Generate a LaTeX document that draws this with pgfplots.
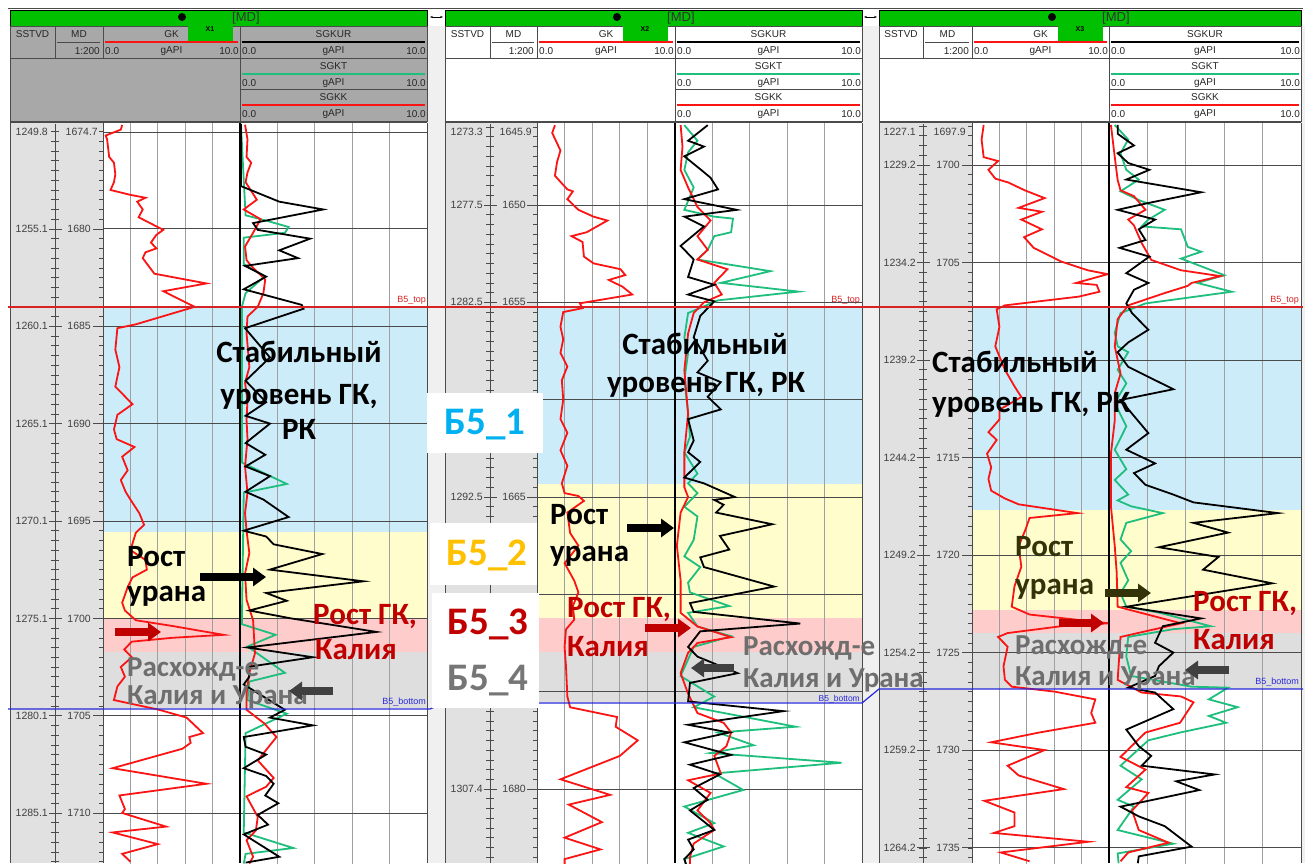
\documentclass[border=0pt]{standalone}
\usepackage{fontspec}
\setmainfont{Liberation Sans}
\newfontfamily\annfont{Carlito}
\usepackage{pgfplots}
\pgfplotsset{compat=1.18}
\usetikzlibrary{arrows.meta}

\definecolor{hdrgreen}{RGB}{0,192,0}
\definecolor{hdrgray}{RGB}{168,168,168}
\definecolor{depthbg}{RGB}{225,225,225}
\definecolor{gapbg}{RGB}{240,240,240}
\definecolor{zblue}{RGB}{204,236,250}
\definecolor{zyellow}{RGB}{255,253,204}
\definecolor{zpink}{RGB}{255,204,204}
\definecolor{zgray}{RGB}{222,222,222}
\definecolor{gkred}{RGB}{250,20,20}
\definecolor{sgkt}{RGB}{30,190,125}
\definecolor{darkred}{RGB}{192,0,0}
\definecolor{b51}{RGB}{0,176,240}
\definecolor{b52}{RGB}{255,192,0}
\definecolor{b54}{RGB}{118,118,118}
\definecolor{olive}{RGB}{51,51,10}
\definecolor{toprd}{RGB}{215,35,35}
\definecolor{botbl}{RGB}{40,40,220}
\definecolor{gridc}{RGB}{160,160,160}
\definecolor{majc}{RGB}{75,75,75}
\definecolor{anngray}{RGB}{110,110,110}

\pgfplotsset{
  track/.style={scale only axis, height=739pt, anchor=north west, y dir=reverse,
    xmin=0, xmax=10, hide axis, clip=true},
  gkc/.style={gkred, line width=1.8pt},
  urc/.style={black, line width=1.8pt},
  tc/.style={sgkt, line width=1.8pt},
  kc/.style={gkred, line width=1.8pt},
}
\tikzset{
  vgrid/.style={gridc, line width=0.8pt},
  hgrid/.style={majc, line width=0.9pt},
  hd/.style={font=\fontsize{10}{11}\selectfont, text=black!85, inner sep=0pt},
  dl/.style={font=\fontsize{10.5}{11}\selectfont, text=black!75, inner sep=0pt},
  ann/.style={font=\annfont\bfseries\fontsize{31}{32}\selectfont, inner sep=0pt},
  anns/.style={font=\annfont\bfseries\fontsize{29}{30}\selectfont, inner sep=0pt},
  big/.style={font=\annfont\bfseries\fontsize{39}{40}\selectfont, inner sep=0pt},
  fat/.style={line width=8pt, -{Triangle[width=18pt,length=13pt]}},
}

% zones of the B5 layer, in MD
\newcommand\zones[5]{%
  \fill[zblue] (axis cs:0,#1) rectangle (axis cs:10,#2);
  \fill[zyellow] (axis cs:0,#2) rectangle (axis cs:10,#3);
  \fill[zpink] (axis cs:0,#3) rectangle (axis cs:10,#4);
  \fill[zgray] (axis cs:0,#4) rectangle (axis cs:10,#5);
}
\newcommand\tgrid[1]{%
  \pgfplotsinvokeforeach{2,4,6,8}{\draw[vgrid] (axis cs:##1,1600) -- (axis cs:##1,1800);}
  \pgfplotsinvokeforeach{#1}{\draw[hgrid] (axis cs:0,##1) -- (axis cs:10,##1);}
}
\newcommand\curvehead[5]{%
  \node[hd] at ({(#1+#2)/2},#3) {#4};
  \draw[#5,line width=1.2pt] (#1+2,#3+8) -- (#2-2,#3+8);
  \node[hd,anchor=west] at (#1+2,#3+17) {0.0};
  \node[hd] at ({(#1+#2)/2},#3+17) {gAPI};
  \node[hd,anchor=east] at (#2-1,#3+17) {10.0};
}
\newcommand\wellhead[6]{%
  \fill[#6] (#1,26) rectangle (#5,121);
  \fill[hdrgreen] (#1,10) rectangle (#5,26);
  \draw[black,line width=0.8pt] (#1,10) rectangle (#5,26);
  \draw[majc,line width=0.8pt] (#1,26) rectangle (#5,121);
  \draw[majc,line width=0.8pt] (#1,58) -- (#5,58);
  \draw[majc,line width=0.8pt] (#4,89) -- (#5,89);
  \draw[majc,line width=0.8pt] (#2,26) -- (#2,58);
  \draw[majc,line width=0.8pt] (#3,26) -- (#3,58);
  \draw[majc,line width=0.8pt] (#4,26) -- (#4,121);
  \node[hd] at ({(#1+#2)/2},34) {SSTVD};
  \node[hd] at ({(#2+#3)/2},34) {MD};
  \draw[majc,line width=0.8pt] (#2+2,42) -- (#3-3,42);
  \node[hd,anchor=east] at (#3-3,51) {1:200};
  \node[hd] at ({(#3+#4)/2},34) {GK};
  \draw[gkred,line width=1.2pt] (#3+2,42) -- (#4-2,42);
  \node[hd,anchor=west] at (#3+2,51) {0.0};
  \node[hd] at ({(#3+#4)/2},51) {gAPI};
  \node[hd,anchor=east] at (#4-1,51) {10.0};
  \curvehead{#4}{#5}{34}{SGKUR}{black}
  \curvehead{#4}{#5}{66}{SGKT}{sgkt}
  \curvehead{#4}{#5}{97}{SGKK}{gkred}
}
\newcommand\welltab[2]{%
  \node[anchor=west,font=\fontsize{13}{13}\selectfont,text=black!80,inner sep=0pt] at (#1+44,18) {[MD]};
  \fill[black] (#1-6,17) circle (4pt);
  \fill[hdrgreen] (#1,25) rectangle (#1+45,41);
  \node[font=\bfseries\fontsize{7}{8}\selectfont,inner sep=0pt] at (#1+22,29) {#2};
}
\newcommand\depthcol[5]{%
  \fill[depthbg] (#1,123) rectangle (#3,863);
  \begin{scope}
    \clip (#1,124) rectangle (#3,863);
    \draw[majc,line width=0.8pt] (#2,124) -- (#2,863);
    \foreach \i in {-30,...,80} {
      \draw[majc,line width=0.7pt] (#2-4,{#4+\i*#5}) -- (#2+4,{#4+\i*#5});
      \draw[majc,line width=0.7pt] (#3-4,{#4+\i*#5}) -- (#3,{#4+\i*#5});
    }
  \end{scope}
}

\begin{document}
\begin{tikzpicture}
\begin{scope}[x=1pt,y=-1pt,shift={(0pt,863pt)}]
\useasboundingbox (0,0) rectangle (1305,863);
\fill[white] (0,0) rectangle (1305,863);
\fill[gapbg] (427,26) rectangle (445,863);
\fill[gapbg] (862,26) rectangle (879,863);
\fill[gapbg] (1301,26) rectangle (1305,863);
\draw[majc,line width=0.8pt] (8,8.5) -- (1303,8.5);
\draw[{Stealth[length=3pt]}-{Stealth[length=3pt]}, line width=0.8pt] (430,17) -- (443,17);
\draw[{Stealth[length=3pt]}-{Stealth[length=3pt]}, line width=0.8pt] (864,17) -- (877,17);

\wellhead{10}{55}{103}{240}{427}{hdrgray}
\welltab{188}{X1}
\wellhead{445}{490}{537}{675}{862}{white}
\welltab{623}{X2}
\wellhead{879}{923}{972}{1109}{1301}{white}
\welltab{1058}{X3}
\draw[majc,line width=0.8pt] (10,122.5) -- (427,122.5);
\draw[majc,line width=0.8pt] (445,122.5) -- (862,122.5);
\draw[majc,line width=0.8pt] (879,122.5) -- (1301,122.5);

\depthcol{10}{55}{103}{229}{9.735}
\depthcol{445}{490}{537}{205}{9.735}
\depthcol{879}{923}{972}{165}{9.755}
\end{scope}

% ---------------- well X1 ----------------
\begin{axis}[track, at={(103pt,739pt)}, width=137pt, ymin=1674.61, ymax=1712.57]
\zones{1684.0}{1695.56}{1700.03}{1701.73}{1704.6}
\tgrid{1680,1685,...,1710}
\draw[hgrid] (axis cs:0,1675.02) -- (axis cs:10,1675.02);
\addplot[gkc] coordinates {
(1.4,1674.66) (1.3,1674.9) (0.2,1675.2) (0.3,1675.4) (0.45,1676.3) (0.8,1676.6)
(0.9,1677.2) (0.8,1677.6) (0.55,1678.0) (2.0,1678.25) (3.1,1678.4) (2.5,1678.6)
(2.9,1679.0) (2.6,1679.4) (4.4,1680.05) (3.9,1680.3) (3.5,1680.7) (3.9,1681.0)
(3.1,1681.2) (2.9,1681.5) (3.75,1682.3) (7.55,1682.8) (4.4,1683.2) (6.4,1683.9)
(6.7,1684.0) (2.4,1684.9) (1.05,1685.1) (0.9,1686.2) (1.2,1687.1) (0.9,1688.1)
(2.15,1689.0) (1.05,1689.55) (0.8,1690.3) (1.0,1690.8) (2.3,1691.2) (1.4,1691.7)
(1.8,1692.4) (1.3,1692.9) (1.65,1693.5) (2.0,1693.9) (2.65,1694.6) (3.0,1695.2)
(2.4,1695.6) (2.0,1696.5) (3.1,1697.0) (3.2,1697.5) (2.15,1697.9) (1.8,1698.4)
(1.4,1699.2) (1.6,1699.6) (2.4,1700.1) (5.1,1700.4) (8.8,1700.85) (5.1,1701.0)
(2.1,1701.2) (1.55,1701.6) (2.1,1702.0) (1.3,1702.5) (1.6,1703.0) (1.05,1703.5)
(0.8,1704.2) (4.1,1704.7) (6.1,1705.1) (7.3,1705.9) (6.3,1706.1) (6.4,1706.4)
(5.8,1706.7) (0.7,1707.7) (7.55,1708.5) (1.2,1709.1) (1.6,1709.8) (1.4,1710.0)
(4.6,1710.7) (0.7,1711.0) (4.0,1711.6) (1.4,1712.1) (2.0,1712.5)
};
\end{axis}
\begin{axis}[track, at={(240pt,739pt)}, width=187pt, ymin=1674.61, ymax=1712.57]
\zones{1684.0}{1695.56}{1700.03}{1701.73}{1704.6}
\tgrid{1680,1685,...,1710}
\draw[hgrid] (axis cs:0,1675.02) -- (axis cs:10,1675.02);
\addplot[tc] coordinates {
(0.05,1674.6) (0.2,1677.5) (0.3,1679.3) (1.5,1679.6) (2.6,1679.9) (2.4,1680.2)
(0.2,1680.45) (0.2,1681.8) (1.3,1682.45) (0.3,1683.3) (0.1,1684.0) (0.1,1692.0)
(2.5,1693.1) (0.2,1693.55) (0.1,1700.3) (1.9,1700.85) (0.4,1701.45) (2.4,1702.8)
(0.5,1703.25) (0.4,1704.2) (2.5,1704.9) (0.3,1705.9) (0.2,1711.0) (2.85,1711.8)
(0.3,1712.1) (0.2,1712.6)
};
\addplot[kc] coordinates {
(0.27,1674.65) (0.4,1675.4) (0.35,1676.3) (0.6,1676.6) (0.4,1677.1) (0.3,1677.6)
(0.9,1678.5) (0.2,1679.0) (1.1,1679.5) (0.7,1680.2) (0.27,1680.9) (0.35,1681.6)
(0.6,1681.9) (1.35,1682.6) (1.25,1683.3) (0.95,1684.0) (0.4,1684.5) (0.35,1685.35)
(0.5,1687.1) (0.27,1687.9) (0.4,1688.8) (0.35,1689.8) (0.4,1690.8) (0.27,1692.2)
(0.4,1693.55) (0.27,1694.6) (0.35,1695.5) (0.5,1696.65) (0.27,1697.7) (0.35,1699.05)
(0.7,1700.1) (0.8,1701.8) (0.5,1702.8) (0.35,1703.85) (0.35,1704.7) (1.3,1705.4)
(1.95,1706.1) (0.95,1707.3) (1.8,1708.2) (1.4,1708.65) (0.35,1709.15) (0.95,1710.2)
(0.85,1710.9) (0.35,1711.4) (0.7,1712.25) (0.5,1712.6)
};
\addplot[urc] coordinates {
(0.05,1674.6) (0.05,1677.8) (2.1,1678.6) (4.45,1679.0) (0.7,1679.7) (0.95,1680.05)
(3.75,1680.5) (2.1,1681.1) (3.1,1681.5) (0.27,1681.9) (1.4,1682.45) (0.2,1683.1)
(3.3,1683.9) (3.4,1684.1) (0.27,1685.1) (1.6,1686.6) (0.3,1687.8) (1.4,1688.9)
(0.3,1689.6) (1.6,1690.0) (0.3,1691.0) (1.35,1691.6) (0.3,1692.2) (1.6,1692.7)
(0.3,1693.5) (1.25,1693.9) (2.6,1694.8) (0.2,1695.5) (1.4,1695.8) (1.8,1696.2)
(4.4,1696.7) (1.6,1697.5) (6.6,1698.1) (1.4,1698.7) (2.5,1699.1) (0.5,1699.6)
(2.7,1700.0) (7.3,1700.7) (0.4,1701.5) (3.9,1702.0) (0.4,1702.5) (0.5,1703.0)
(0.2,1703.4) (2.4,1704.7) (1.6,1705.1) (3.9,1705.5) (0.2,1706.1) (0.3,1706.6)
(1.4,1707.0) (0.2,1707.7) (1.4,1708.1) (1.8,1708.5) (1.35,1709.1) (2.05,1709.5)
(0.95,1710.1) (1.5,1710.6) (0.2,1711.1) (2.1,1712.25) (0.3,1712.55)
};
\end{axis}

% ---------------- well X2 ----------------
\begin{axis}[track, at={(537pt,739pt)}, width=138pt, ymin=1645.84, ymax=1683.80]
\zones{1655.24}{1664.33}{1671.21}{1672.96}{1675.53}
\tgrid{1650,1655,...,1680}
\addplot[gkc] coordinates {
(1.3,1645.9) (1.1,1646.3) (1.7,1647.2) (1.45,1647.8) (1.3,1648.5) (2.2,1649.2)
(2.6,1649.3) (2.2,1649.7) (3.0,1650.25) (4.1,1650.6) (5.1,1650.8) (3.6,1651.4)
(2.5,1651.6) (3.3,1651.9) (3.4,1652.65) (4.1,1653.0) (6.05,1653.3) (6.4,1653.6)
(5.2,1653.85) (6.2,1654.2) (6.9,1654.6) (3.1,1655.05) (3.3,1655.3) (1.9,1655.5)
(1.7,1656.25) (1.9,1656.9) (1.7,1657.6) (2.2,1658.3) (1.8,1659.0) (1.9,1660.0)
(1.7,1661.0) (2.2,1661.7) (1.7,1662.6) (2.2,1663.4) (1.8,1664.3) (2.0,1664.8)
(3.0,1664.95) (3.4,1665.2) (2.2,1665.8) (2.4,1666.85) (3.0,1667.5) (2.0,1668.4)
(2.7,1669.3) (3.0,1669.9) (2.6,1670.6) (2.7,1671.3) (2.1,1671.8) (2.0,1672.7)
(2.1,1673.7) (2.2,1675.25) (2.4,1675.8) (5.8,1676.3) (5.7,1676.8) (7.3,1677.5)
(6.0,1678.3) (1.7,1679.5) (5.3,1680.3) (2.3,1680.8) (4.7,1681.7) (2.0,1682.5)
(4.6,1683.1) (2.0,1683.6) (2.0,1683.9)
};
\end{axis}
\begin{axis}[track, at={(675pt,739pt)}, width=187pt, ymin=1645.84, ymax=1683.80]
\zones{1655.24}{1664.33}{1671.21}{1672.96}{1675.53}
\tgrid{1650,1655,...,1680}
\addplot[tc] coordinates {
(0.5,1645.9) (1.2,1646.7) (0.7,1647.3) (0.5,1648.2) (1.0,1649.1) (0.5,1650.25)
(2.1,1650.6) (3.1,1650.7) (3.0,1651.4) (2.1,1651.6) (1.75,1652.3) (1.2,1652.8)
(5.1,1653.4) (2.45,1654.0) (6.6,1654.45) (2.3,1654.9) (0.7,1655.55) (0.5,1656.8)
(0.7,1657.6) (0.5,1659.0) (0.7,1660.7) (0.8,1661.9) (0.5,1662.7) (1.2,1663.8)
(0.7,1664.3) (1.2,1664.8) (0.5,1665.5) (1.2,1666.0) (1.0,1667.2) (0.5,1668.05)
(1.35,1668.6) (0.7,1669.4) (0.8,1669.9) (2.9,1670.6) (0.7,1670.95) (1.2,1671.65)
(3.0,1672.15) (1.0,1672.7) (0.3,1674.2) (2.1,1675.25) (1.0,1675.8) (6.45,1676.8)
(2.3,1677.1) (4.2,1677.75) (1.9,1678.15) (8.9,1678.65) (2.1,1679.2) (3.65,1680.05)
(0.5,1680.9) (2.1,1681.75) (0.7,1682.25) (2.6,1682.95) (0.5,1683.6) (0.6,1683.9)
};
\addplot[kc] coordinates {
(0.3,1645.9) (0.4,1647.0) (0.3,1648.2) (0.7,1649.1) (1.2,1650.1) (1.9,1650.8)
(1.2,1651.6) (1.75,1652.3) (1.2,1652.8) (2.8,1653.3) (2.1,1654.0) (2.5,1654.6)
(1.55,1655.0) (1.0,1655.55) (0.7,1656.6) (0.5,1658.5) (0.7,1660.7) (0.5,1662.7)
(0.5,1664.5) (0.7,1665.0) (0.3,1665.8) (0.1,1667.5) (0.3,1669.3) (0.3,1670.95)
(1.2,1671.65) (3.0,1672.2) (1.2,1672.5) (0.7,1673.0) (0.3,1674.05) (0.7,1675.1)
(1.2,1676.1) (2.6,1676.6) (3.0,1677.1) (2.75,1677.8) (2.1,1678.3) (2.45,1679.2)
(0.7,1679.55) (1.9,1680.2) (1.2,1681.1) (1.9,1681.75) (2.1,1682.1) (1.0,1682.8)
(0.8,1683.5) (0.8,1683.9)
};
\addplot[urc] coordinates {
(1.75,1645.9) (0.7,1646.7) (1.55,1647.0) (0.5,1647.5) (1.4,1648.2) (1.9,1648.6)
(2.3,1649.2) (0.5,1649.7) (3.3,1650.25) (0.5,1650.6) (1.55,1651.1) (0.3,1652.1)
(1.0,1652.8) (0.7,1653.7) (2.1,1654.1) (0.7,1654.6) (2.1,1654.95) (1.35,1655.7)
(1.0,1656.8) (1.75,1658.0) (1.2,1658.6) (2.45,1659.1) (1.75,1659.85) (2.45,1660.5)
(0.7,1661.0) (1.0,1662.1) (0.7,1662.7) (1.35,1663.2) (0.5,1664.0) (1.55,1664.3)
(3.2,1665.0) (2.1,1665.15) (2.6,1665.4) (2.2,1665.8) (5.2,1666.4) (2.4,1667.0)
(2.9,1667.7) (1.35,1668.1) (1.55,1668.6) (5.3,1669.6) (0.8,1670.45) (1.0,1670.9)
(6.7,1671.5) (1.35,1671.9) (0.7,1672.7) (1.2,1673.2) (3.35,1674.05) (0.8,1674.55)
(0.7,1675.5) (5.8,1676.0) (0.7,1676.7) (2.9,1677.1) (0.5,1677.6) (3.0,1678.25)
(0.8,1678.75) (2.4,1679.25) (1.0,1679.95) (1.75,1680.55) (0.8,1681.1) (2.1,1682.1)
(0.7,1682.6) (1.0,1683.1) (0.5,1683.6) (0.6,1683.9)
};
\end{axis}

% ---------------- well X3 ----------------
\begin{axis}[track, at={(972pt,739pt)}, width=137pt, ymin=1697.90, ymax=1735.79]
\zones{1707.28}{1717.68}{1722.81}{1723.99}{1726.86}
\tgrid{1700,1705,...,1735}
\addplot[gkc] coordinates {
(0.85,1697.95) (0.7,1698.7) (0.85,1699.6) (1.9,1699.8) (1.2,1700.25) (1.7,1700.7)
(2.65,1700.9) (3.85,1701.3) (5.3,1701.7) (3.4,1702.2) (5.1,1702.4) (3.6,1702.8)
(5.1,1703.3) (3.8,1703.7) (4.5,1704.25) (5.8,1704.7) (6.5,1704.95) (8.45,1705.4)
(9.9,1705.6) (7.6,1706.05) (9.1,1706.15) (9.3,1706.5) (7.8,1706.75) (2.4,1707.2)
(1.8,1707.4) (2.0,1708.3) (1.7,1709.3) (2.4,1710.5) (3.1,1711.35) (3.6,1711.9)
(2.0,1712.55) (2.0,1713.05) (1.2,1713.7) (1.8,1714.1) (1.1,1714.8) (1.4,1715.5)
(1.2,1716.1) (1.4,1716.7) (2.4,1717.1) (3.4,1717.4) (7.7,1717.85) (4.2,1718.1)
(3.9,1718.7) (3.4,1719.55) (3.6,1720.6) (3.1,1721.6) (2.9,1722.65) (4.2,1723.05)
(10.0,1723.5) (6.5,1723.65) (2.6,1724.0) (1.9,1724.2) (2.6,1724.7) (2.3,1725.7)
(2.4,1726.4) (2.9,1726.75) (6.0,1727.0) (9.0,1727.4) (8.7,1728.1) (9.0,1728.6)
(4.9,1729.1) (1.4,1729.6) (5.3,1730.0) (2.6,1730.8) (3.4,1731.3) (6.7,1732.0)
(0.9,1732.6) (3.1,1733.2) (3.1,1733.9) (1.6,1734.25) (8.5,1734.7) (2.1,1735.25)
(4.2,1735.7)
};
\end{axis}
\begin{axis}[track, at={(1109pt,739pt)}, width=192pt, ymin=1697.90, ymax=1735.79]
\zones{1707.28}{1717.68}{1722.81}{1723.99}{1726.86}
\tgrid{1700,1705,...,1735}
\addplot[tc] coordinates {
(0.3,1697.95) (1.0,1698.7) (0.6,1699.4) (0.9,1700.25) (1.55,1700.75) (0.6,1701.35)
(1.55,1701.8) (2.9,1702.3) (2.05,1702.8) (1.7,1703.15) (3.75,1703.3) (4.1,1704.2)
(4.8,1704.45) (3.75,1704.8) (6.0,1705.65) (4.6,1706.05) (6.4,1706.5) (1.9,1707.1)
(0.6,1707.6) (0.3,1708.6) (0.45,1709.3) (1.0,1709.6) (0.45,1710.5) (0.9,1711.2)
(0.3,1712.2) (0.9,1713.4) (0.3,1714.6) (0.9,1715.6) (0.3,1716.15) (1.0,1716.9)
(0.45,1717.2) (1.15,1717.5) (2.8,1717.85) (0.9,1718.35) (0.6,1719.2) (1.15,1719.8)
(0.6,1720.4) (1.0,1721.3) (0.6,1721.95) (0.9,1722.65) (2.6,1722.95) (5.3,1723.65)
(3.35,1723.8) (1.0,1724.2) (0.9,1725.2) (1.15,1726.2) (4.3,1726.75) (6.2,1726.8)
(5.2,1727.4) (6.7,1727.8) (5.2,1728.25) (6.1,1728.6) (3.7,1729.1) (2.05,1729.5)
(0.6,1730.8) (1.7,1731.5) (0.45,1732.55) (1.3,1732.9) (0.45,1734.1) (3.35,1734.8)
(0.45,1735.3) (0.5,1735.8)
};
\addplot[kc] coordinates {
(0.1,1697.95) (0.3,1699.6) (0.45,1700.77) (0.6,1701.3) (1.3,1701.6) (1.9,1702.3)
(1.0,1702.8) (1.3,1703.1) (1.7,1704.0) (2.2,1704.87) (3.75,1705.4) (5.8,1705.7)
(4.3,1706.05) (4.1,1706.2) (2.8,1706.6) (1.0,1707.2) (0.45,1707.9) (0.3,1709.3)
(0.6,1710.7) (0.3,1711.7) (0.3,1713.1) (0.1,1714.8) (0.1,1717.5) (0.3,1719.55)
(0.4,1720.9) (0.45,1722.65) (3.75,1723.5) (2.4,1723.8) (0.6,1724.2) (0.45,1726.4)
(1.7,1727.05) (3.75,1727.25) (4.4,1727.55) (3.9,1728.3) (3.7,1728.6) (1.9,1729.1)
(0.6,1730.35) (1.9,1731.0) (0.9,1731.9) (2.05,1732.2) (1.2,1733.1) (1.55,1734.1)
(3.1,1734.75) (1.0,1735.25) (0.6,1735.7)
};
\addplot[urc] coordinates {
(0.45,1697.95) (0.45,1698.4) (1.3,1699.0) (0.45,1699.4) (1.0,1699.9) (2.1,1700.25)
(0.9,1700.75) (4.8,1701.4) (2.05,1701.95) (0.45,1702.3) (2.4,1702.8) (1.55,1703.3)
(1.9,1703.85) (0.55,1704.25) (2.1,1704.7) (0.9,1705.55) (2.05,1706.05) (1.3,1706.4)
(0.9,1707.1) (1.2,1707.6) (2.05,1708.45) (1.0,1709.1) (0.45,1709.6) (1.0,1710.35)
(3.35,1711.5) (0.6,1712.05) (2.05,1713.75) (0.9,1714.6) (2.4,1715.3) (1.3,1715.8)
(1.9,1716.4) (3.35,1716.9) (4.4,1717.3) (8.8,1717.85) (4.4,1718.35) (6.2,1718.85)
(2.6,1719.6) (5.7,1720.1) (4.9,1720.75) (8.5,1721.45) (0.9,1722.65) (4.8,1723.25)
(2.8,1723.65) (2.4,1724.5) (3.35,1725.0) (2.6,1725.7) (2.4,1726.2) (1.0,1726.8)
(2.4,1727.05) (3.35,1727.9) (0.9,1728.95) (1.55,1729.8) (2.2,1730.3) (1.7,1730.8)
(5.5,1731.25) (3.5,1731.6) (4.7,1732.05) (0.6,1732.9) (1.55,1733.4) (2.9,1733.9)
(4.3,1734.95) (1.55,1735.45) (1.5,1735.8)
};
\end{axis}

\begin{scope}[x=1pt,y=-1pt,shift={(0pt,863pt)}]
% track borders
\foreach \L/\D/\G/\R in {10/103/240/427, 445/537/675/862, 879/972/1109/1301} {
  \draw[majc,line width=0.9pt] (\L,123) -- (\L,863);
  \draw[majc,line width=0.9pt] (\D,123) -- (\D,863);
  \draw[black,line width=1.6pt] (\G,123) -- (\G,863);
  \draw[majc,line width=0.9pt] (\R,123) -- (\R,863);
}
% depth labels
\foreach \md/\ss in {1680/1255.1,1685/1260.1,1690/1265.1,1695/1270.1,1700/1275.1,1705/1280.1,1710/1285.1} {
  \pgfmathsetmacro\yy{229+(\md-1680)*19.47}
  \draw[majc,line width=0.8pt] (49,\yy) -- (62,\yy);
  \draw[majc,line width=0.8pt] (93,\yy) -- (103,\yy);
  \node[dl,anchor=east] at (48,\yy) {\ss};
  \node[dl,anchor=east] at (91,\yy) {\md};
}
\node[dl,anchor=east] at (48,132) {1249.8};
\node[dl,anchor=east] at (98,132) {1674.7};
\foreach \md/\ss in {1650/1277.5,1655/1282.5,1665/1292.5,1680/1307.4} {
  \pgfmathsetmacro\yy{205+(\md-1650)*19.47}
  \draw[majc,line width=0.8pt] (484,\yy) -- (497,\yy);
  \draw[majc,line width=0.8pt] (527,\yy) -- (537,\yy);
  \node[dl,anchor=east] at (483,\yy) {\ss};
  \node[dl,anchor=east] at (526,\yy) {\md};
}
\node[dl,anchor=east] at (483,132) {1273.3};
\node[dl,anchor=east] at (532,132) {1645.9};
\foreach \md/\ss in {1700/1229.2,1705/1234.2,1710/1239.2,1715/1244.2,1720/1249.2,1725/1254.2,1730/1259.2,1735/1264.2} {
  \pgfmathsetmacro\yy{165+(\md-1700)*19.51}
  \draw[majc,line width=0.8pt] (917,\yy) -- (930,\yy);
  \draw[majc,line width=0.8pt] (962,\yy) -- (972,\yy);
  \node[dl,anchor=east] at (916,\yy) {\ss};
}
\foreach \md in {1700,1705,1715,1720,1725,1730,1735} {
  \pgfmathsetmacro\yy{165+(\md-1700)*19.51}
  \node[dl,anchor=east] at (960,\yy) {\md};
}
\node[dl,anchor=east] at (916,132) {1227.1};
\node[dl,anchor=east] at (966,132) {1697.9};

% formation tops
\draw[toprd,line width=1.4pt] (8,307) -- (1303,307);
\draw[botbl,line width=1.2pt] (8,709) -- (430,709) -- (445,703) -- (862,703) -- (879,689) -- (1303,689);
\foreach \R in {426,860,1299} {
  \node[anchor=base east,inner sep=0pt,font=\fontsize{9}{10}\selectfont,text=toprd] at (\R,303) {B5\_top};
}
\node[anchor=base east,inner sep=0pt,font=\fontsize{9}{10}\selectfont,text=botbl] at (426,705) {B5\_bottom};
\node[anchor=base east,inner sep=0pt,font=\fontsize{8.5}{9}\selectfont,text=botbl] at (860,701.5) {B5\_bottom};
\node[anchor=base east,inner sep=0pt,font=\fontsize{9}{10}\selectfont,text=botbl] at (1299,685) {B5\_bottom};

% annotations well X1
\node[ann,anchor=base] at (299,363) {Стабильный};
\node[ann,anchor=base] at (299,405) {уровень ГК,};
\node[ann,anchor=base] at (299,440) {РК};
\node[ann,anchor=base west] at (127,567) {Рост};
\node[ann,anchor=base west] at (127,602) {урана};
\node[ann,anchor=base west,text=darkred] at (313,625) {Рост ГК,};
\node[ann,anchor=base west,text=darkred] at (315,660) {Калия};
\node[anns,anchor=base west,text=anngray] at (127,677) {Расхожд-е};
\node[anns,anchor=base west,text=anngray] at (127,705) {Калия и Урана};
\draw[fat,black] (200,577) -- (266,577);
\draw[fat,darkred] (115,632) -- (161,632);
\draw[fat,black!75] (333,691) -- (289,691);

% annotations well X2
\node[ann,anchor=base] at (705,355) {Стабильный};
\node[ann,anchor=base] at (706,393) {уровень ГК, РК};
\node[ann,anchor=base west] at (550,525) {Рост};
\node[ann,anchor=base west] at (550,562) {урана};
\node[ann,anchor=base west,text=darkred] at (567,618) {Рост ГК,};
\node[ann,anchor=base west,text=darkred] at (567,657) {Калия};
\node[anns,anchor=base west,text=anngray] at (743,656) {Расхожд-е};
\node[anns,anchor=base west,text=anngray] at (743,688) {Калия и Урана};
\draw[fat,black] (627,528) -- (674,528);
\draw[fat,darkred] (645,628) -- (691,628);
\draw[fat,black!75] (734,668) -- (691,668);

% annotations well X3
\node[ann,anchor=base west] at (932,373) {Стабильный};
\node[ann,anchor=base west] at (932,413) {уровень ГК, РК};
\node[ann,anchor=base west,text=olive] at (1015,557) {Рост};
\node[ann,anchor=base west,text=olive] at (1015,595) {урана};
\node[ann,anchor=base west,text=darkred] at (1193,612) {Рост ГК,};
\node[ann,anchor=base west,text=darkred] at (1193,650) {Калия};
\node[anns,anchor=base west,text=anngray] at (1015,655) {Расхожд-е};
\node[anns,anchor=base west,text=anngray] at (1015,686) {Калия и Урана};
\draw[fat,olive] (1105,593) -- (1151,593);
\draw[fat,darkred] (1059,623) -- (1104,623);
\draw[fat,black!75] (1229,670) -- (1185,670);

% layer names
\fill[white] (427,393) rectangle (543,453);
\node[big,anchor=base,text=b51] at (485,435) {Б5\_1};
\fill[white] (430,523) rectangle (537,585);
\node[big,anchor=base,text=b52] at (487,566) {Б5\_2};
\fill[white] (432,593) rectangle (539,708);
\node[big,anchor=base,text=darkred] at (488,635) {Б5\_3};
\node[big,anchor=base,text=b54] at (488,691) {Б5\_4};
\end{scope}
\end{tikzpicture}
\end{document}
